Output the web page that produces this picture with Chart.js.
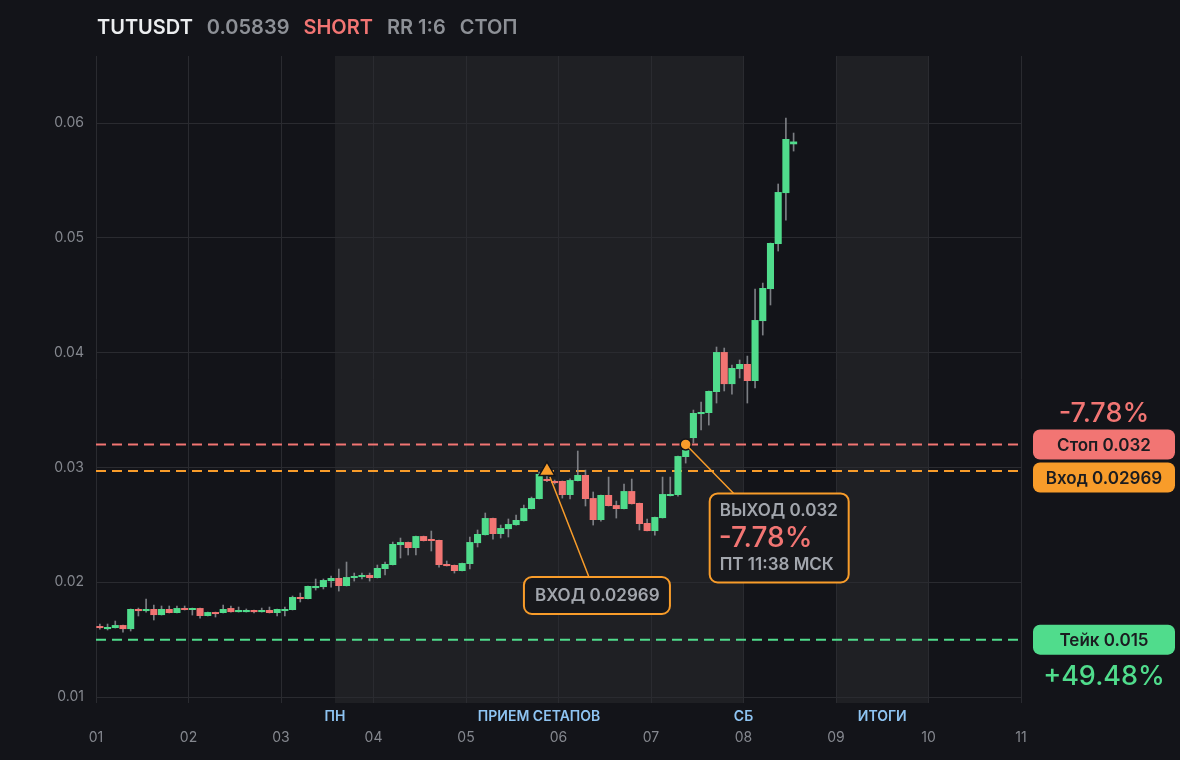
<!DOCTYPE html>
<html>
<head>
<meta charset="utf-8">
<script src="https://cdn.jsdelivr.net/npm/chart.js@4.4.1/dist/chart.umd.min.js"></script>
<style>
  html, body { margin: 0; padding: 0; background: #131419; }
  canvas { display: block; }
</style>
</head>
<body>
<canvas id="chart" width="1180" height="760"></canvas>
<script>
// header
const symbol = 'TUTUSDT';
const lastPrice = '0.05839';
const side = 'SHORT';
const riskReward = 'RR 1:6';
const outcome = 'СТОП';

// 2h candles starting at day 01 00:00
const candleHours = 2;
const opens = [
  0.01618, 0.01592, 0.01601, 0.01627, 0.01592, 0.01767, 0.01749, 0.01767, 0.01714, 0.01767,
  0.01732, 0.01775, 0.01758, 0.01775, 0.01706, 0.01740, 0.01732, 0.01775, 0.01740, 0.01740,
  0.01758, 0.01740, 0.01758, 0.01732, 0.01749, 0.01758, 0.01871, 0.01854, 0.01949, 0.01958,
  0.02010, 0.02037, 0.01967, 0.02037, 0.02045, 0.02063, 0.02037, 0.02115, 0.02150, 0.02324,
  0.02350, 0.02298, 0.02402, 0.02368, 0.02368, 0.02159, 0.02150, 0.02098, 0.02159, 0.02341,
  0.02411, 0.02559, 0.02420, 0.02463, 0.02498, 0.02533, 0.02638, 0.02725, 0.02899, 0.02882,
  0.02882, 0.02760, 0.02882, 0.02934, 0.02733, 0.02542, 0.02760, 0.02672, 0.02638, 0.02794,
  0.02690, 0.02516, 0.02446, 0.02559, 0.02751, 0.02760, 0.03091, 0.03256, 0.03465, 0.03474,
  0.03657, 0.04005, 0.03726, 0.03857, 0.03901, 0.03753, 0.04275, 0.04554, 0.04946, 0.05390,
  0.05815
];
const highs = [
  0.01636, 0.01636, 0.01662, 0.01627, 0.01767, 0.01775, 0.01854, 0.01801, 0.01793, 0.01793,
  0.01793, 0.01793, 0.01775, 0.01775, 0.01740, 0.01740, 0.01801, 0.01793, 0.01784, 0.01767,
  0.01758, 0.01775, 0.01784, 0.01767, 0.01784, 0.01880, 0.01906, 0.01967, 0.02028, 0.02028,
  0.02054, 0.02115, 0.02176, 0.02080, 0.02080, 0.02080, 0.02150, 0.02176, 0.02350, 0.02385,
  0.02350, 0.02402, 0.02402, 0.02446, 0.02368, 0.02185, 0.02150, 0.02167, 0.02394, 0.02455,
  0.02603, 0.02559, 0.02498, 0.02551, 0.02585, 0.02672, 0.02742, 0.02960, 0.02930, 0.02890,
  0.02882, 0.02900, 0.03143, 0.02977, 0.02786, 0.02760, 0.02916, 0.02707, 0.02855, 0.02899,
  0.02690, 0.02551, 0.02568, 0.02916, 0.02916, 0.03099, 0.03213, 0.03500, 0.03570, 0.03666,
  0.04049, 0.04040, 0.03892, 0.03936, 0.03970, 0.04554, 0.04606, 0.04955, 0.05469, 0.06044,
  0.05913
];
const lows = [
  0.01592, 0.01584, 0.01601, 0.01566, 0.01575, 0.01706, 0.01740, 0.01671, 0.01714, 0.01732,
  0.01732, 0.01758, 0.01714, 0.01688, 0.01706, 0.01697, 0.01732, 0.01740, 0.01740, 0.01740,
  0.01732, 0.01740, 0.01732, 0.01706, 0.01706, 0.01758, 0.01828, 0.01854, 0.01932, 0.01941,
  0.01958, 0.01923, 0.01967, 0.02010, 0.02028, 0.02010, 0.02037, 0.02063, 0.02150, 0.02211,
  0.02237, 0.02237, 0.02359, 0.02272, 0.02132, 0.02141, 0.02080, 0.02098, 0.02115, 0.02307,
  0.02411, 0.02376, 0.02385, 0.02394, 0.02498, 0.02533, 0.02638, 0.02725, 0.02875, 0.02855,
  0.02733, 0.02725, 0.02882, 0.02664, 0.02498, 0.02533, 0.02664, 0.02559, 0.02638, 0.02681,
  0.02455, 0.02446, 0.02411, 0.02559, 0.02751, 0.02750, 0.03038, 0.03213, 0.03326, 0.03369,
  0.03561, 0.03666, 0.03639, 0.03779, 0.03561, 0.03692, 0.04153, 0.04415, 0.04885, 0.05155,
  0.05756
];
const closes = [
  0.01601, 0.01610, 0.01627, 0.01592, 0.01767, 0.01749, 0.01767, 0.01714, 0.01767, 0.01732,
  0.01775, 0.01758, 0.01775, 0.01706, 0.01740, 0.01723, 0.01767, 0.01740, 0.01758, 0.01758,
  0.01740, 0.01758, 0.01732, 0.01767, 0.01767, 0.01871, 0.01854, 0.01967, 0.01967, 0.02019,
  0.02037, 0.01967, 0.02045, 0.02054, 0.02063, 0.02037, 0.02124, 0.02159, 0.02333, 0.02350,
  0.02298, 0.02402, 0.02359, 0.02359, 0.02150, 0.02141, 0.02098, 0.02167, 0.02350, 0.02420,
  0.02559, 0.02420, 0.02472, 0.02507, 0.02542, 0.02646, 0.02733, 0.02943, 0.02882, 0.02864,
  0.02760, 0.02890, 0.02934, 0.02725, 0.02542, 0.02760, 0.02664, 0.02638, 0.02794, 0.02681,
  0.02507, 0.02446, 0.02568, 0.02768, 0.02768, 0.03099, 0.03152, 0.03474, 0.03483, 0.03666,
  0.04005, 0.03726, 0.03866, 0.03901, 0.03753, 0.04284, 0.04563, 0.04955, 0.05399, 0.05861,
  0.05839
];

// axes
const dayTicks = [0, 1, 2, 3, 4, 5, 6, 7, 8, 9, 10];
const dayLabels = ['01', '02', '03', '04', '05', '06', '07', '08', '09', '10', '11'];
const priceTicks = [0.01, 0.02, 0.03, 0.04, 0.05, 0.06];

// trade levels
const entryPrice = 0.02969;
const stopPrice = 0.032;
const takePrice = 0.015;
const entryIndex = 58;
const exitIndex = 76;
const stopPct = '-7.78%';
const takePct = '+49.48%';
const exitTime = 'ПТ 11:38 МСК';

// shaded sessions (in days from 01) and their captions
const sessionFrom = [2.583, 8];
const sessionTo = [7, 9];
const captionText = ['ПН', 'ПРИЕМ СЕТАПОВ', 'СБ', 'ИТОГИ'];
const captionAt = [2.583, 4.79, 7, 8.5];

const UP = '#50dc8c';
const DOWN = '#f27573';
const ORANGE = '#f89c2a';
const BG = '#131419';
const BAND = '#1f2024';
const GRID = '#2a2b30';
const TXT = '#85888f';
const FONT = 'Inter, "Noto Sans", sans-serif';

const candleX = opens.map((_, i) => (i + 0.5) * candleHours / 24);
const isUp = i => closes[i] >= opens[i];

const backdrop = {
  id: 'backdrop',
  beforeDraw(chart) {
    const { ctx, chartArea: a, scales: { x } } = chart;
    ctx.save();
    ctx.fillStyle = BG;
    ctx.fillRect(0, 0, chart.width, chart.height);
    ctx.fillStyle = BAND;
    sessionFrom.forEach((f, k) => {
      const x0 = x.getPixelForValue(f), x1 = x.getPixelForValue(sessionTo[k]);
      ctx.fillRect(x0, a.top, x1 - x0, a.bottom - a.top);
    });
    ctx.restore();
  }
};

function roundRect(ctx, x, y, w, h, r) {
  ctx.beginPath();
  ctx.moveTo(x + r, y);
  ctx.arcTo(x + w, y, x + w, y + h, r);
  ctx.arcTo(x + w, y + h, x, y + h, r);
  ctx.arcTo(x, y + h, x, y, r);
  ctx.arcTo(x, y, x + w, y, r);
  ctx.closePath();
}

const notes = {
  id: 'notes',
  afterDatasetsDraw(chart) {
    const { ctx, scales: { x, y } } = chart;
    const ex = x.getPixelForValue(candleX[entryIndex]), ey = y.getPixelForValue(entryPrice);
    const qx = x.getPixelForValue(candleX[exitIndex]), qy = y.getPixelForValue(stopPrice);
    ctx.save();
    ctx.strokeStyle = ORANGE;
    ctx.lineWidth = 1.5;
    ctx.beginPath();
    ctx.moveTo(ex + 3, ey + 6); ctx.lineTo(ex + 42, ey + 106);
    ctx.moveTo(qx + 3, qy + 3); ctx.lineTo(qx + 48, qy + 49);
    ctx.stroke();

    // entry box
    ctx.lineWidth = 2;
    ctx.fillStyle = '#17181c';
    roundRect(ctx, ex - 23, ey + 106, 146, 37, 8);
    ctx.fill(); ctx.stroke();
    ctx.fillStyle = '#a2a6ad';
    ctx.font = '600 17px ' + FONT;
    ctx.textBaseline = 'middle';
    ctx.textAlign = 'left';
    ctx.fillText('ВХОД ' + entryPrice, ex - 12, ey + 125);

    // exit box
    ctx.fillStyle = '#17181c';
    roundRect(ctx, qx + 24, qy + 49, 139, 89, 8);
    ctx.fill(); ctx.stroke();
    ctx.fillStyle = '#a2a6ad';
    ctx.fillText('ВЫХОД ' + stopPrice, qx + 34, qy + 66);
    ctx.fillText(exitTime, qx + 34, qy + 120);
    ctx.fillStyle = DOWN;
    ctx.font = '500 28px ' + FONT;
    ctx.fillText(stopPct, qx + 33, qy + 94);
    ctx.restore();
  },
  afterDraw(chart) {
    const { ctx, chartArea: a, scales: { x, y } } = chart;
    ctx.save();
    ctx.textBaseline = 'middle';

    // title
    ctx.font = '600 20px ' + FONT;
    ctx.textAlign = 'left';
    let tx = 97;
    [[symbol, '#eceef0'], [lastPrice, '#8d9096'], [side, DOWN], [riskReward, '#8d9096'], [outcome, '#8d9096']]
      .forEach(([t, c]) => {
        ctx.fillStyle = c;
        ctx.fillText(t, tx, 28);
        tx += ctx.measureText(t).width + 14;
      });

    // session captions
    ctx.font = '600 14px ' + FONT;
    ctx.textAlign = 'center';
    ctx.fillStyle = '#8ec4f2';
    captionText.forEach((t, k) => ctx.fillText(t, x.getPixelForValue(captionAt[k]), a.bottom + 14));

    // right side pills
    const px = a.right + 12, pw = 142, ph = 30;
    const sy = y.getPixelForValue(stopPrice);
    const ny = sy + 33;
    const ty = y.getPixelForValue(takePrice);
    const pill = (cy, fill, label) => {
      ctx.fillStyle = fill;
      roundRect(ctx, px, cy - ph / 2, pw, ph, 7);
      ctx.fill();
      ctx.fillStyle = '#1b1c20';
      ctx.font = '600 17px ' + FONT;
      ctx.fillText(label, px + pw / 2, cy + 1);
    };
    pill(sy, DOWN, 'Стоп ' + stopPrice);
    pill(ny, ORANGE, 'Вход ' + entryPrice);
    pill(ty, UP, 'Тейк ' + takePrice);
    ctx.font = '500 27px ' + FONT;
    ctx.fillStyle = DOWN;
    ctx.fillText(stopPct, px + pw / 2, sy - 31);
    ctx.fillStyle = UP;
    ctx.fillText(takePct, px + pw / 2, ty + 37);
    ctx.restore();
  }
};

const levelLine = (price, color) => ({
  type: 'line',
  data: [{ x: dayTicks[0], y: price }, { x: dayTicks[dayTicks.length - 1], y: price }],
  borderColor: color,
  borderWidth: 2,
  borderDash: [10, 6],
  pointRadius: 0,
  order: 3
});

new Chart(document.getElementById('chart'), {
  type: 'bar',
  data: {
    datasets: [
      {
        data: candleX.map((cx, i) => ({ x: cx, y: [opens[i], closes[i]] })),
        backgroundColor: c => isUp(c.dataIndex) ? UP : DOWN,
        borderWidth: 0,
        borderSkipped: false,
        grouped: false,
        categoryPercentage: 1,
        barPercentage: 0.92,
        minBarLength: 2,
        order: 1
      },
      {
        data: candleX.map((cx, i) => ({ x: cx, y: [lows[i], highs[i]] })),
        backgroundColor: 'rgba(135,137,143,0.9)',
        borderWidth: 0,
        grouped: false,
        barThickness: 1,
        order: 2
      },
      levelLine(stopPrice, DOWN),
      levelLine(entryPrice, ORANGE),
      levelLine(takePrice, UP),
      {
        type: 'scatter',
        data: [{ x: candleX[entryIndex], y: entryPrice }],
        pointStyle: 'triangle',
        pointRadius: 9,
        backgroundColor: ORANGE,
        borderColor: BG,
        borderWidth: 1.5,
        order: 0
      },
      {
        type: 'scatter',
        data: [{ x: candleX[exitIndex], y: stopPrice }],
        pointStyle: 'circle',
        pointRadius: 5.5,
        backgroundColor: ORANGE,
        borderColor: BG,
        borderWidth: 1.5,
        order: 0
      }
    ]
  },
  options: {
    responsive: false,
    animation: false,
    layout: { padding: { top: 56, right: 159, bottom: 0, left: 0 } },
    plugins: { legend: { display: false }, tooltip: { enabled: false } },
    scales: {
      x: {
        type: 'linear',
        offset: false,
        min: dayTicks[0],
        max: dayTicks[dayTicks.length - 1],
        afterBuildTicks: s => { s.ticks = dayTicks.map(v => ({ value: v })); },
        afterFit: s => { s.height = 57; },
        grid: { color: GRID, drawTicks: false, offset: false },
        border: { display: false },
        ticks: {
          color: TXT, padding: 26, maxRotation: 0, autoSkip: false,
          font: { family: FONT, size: 14 },
          callback: (v, i) => dayLabels[i]
        }
      },
      y: {
        min: 0.00948,
        max: 0.06584,
        afterBuildTicks: s => { s.ticks = priceTicks.map(v => ({ value: v })); },
        afterFit: s => { s.width = 96; },
        grid: { color: GRID, drawTicks: false },
        border: { display: false },
        ticks: {
          color: TXT, padding: 12,
          font: { family: FONT, size: 14 },
          callback: v => v.toFixed(2)
        }
      }
    }
  },
  plugins: [backdrop, notes]
});
</script>
</body>
</html>
